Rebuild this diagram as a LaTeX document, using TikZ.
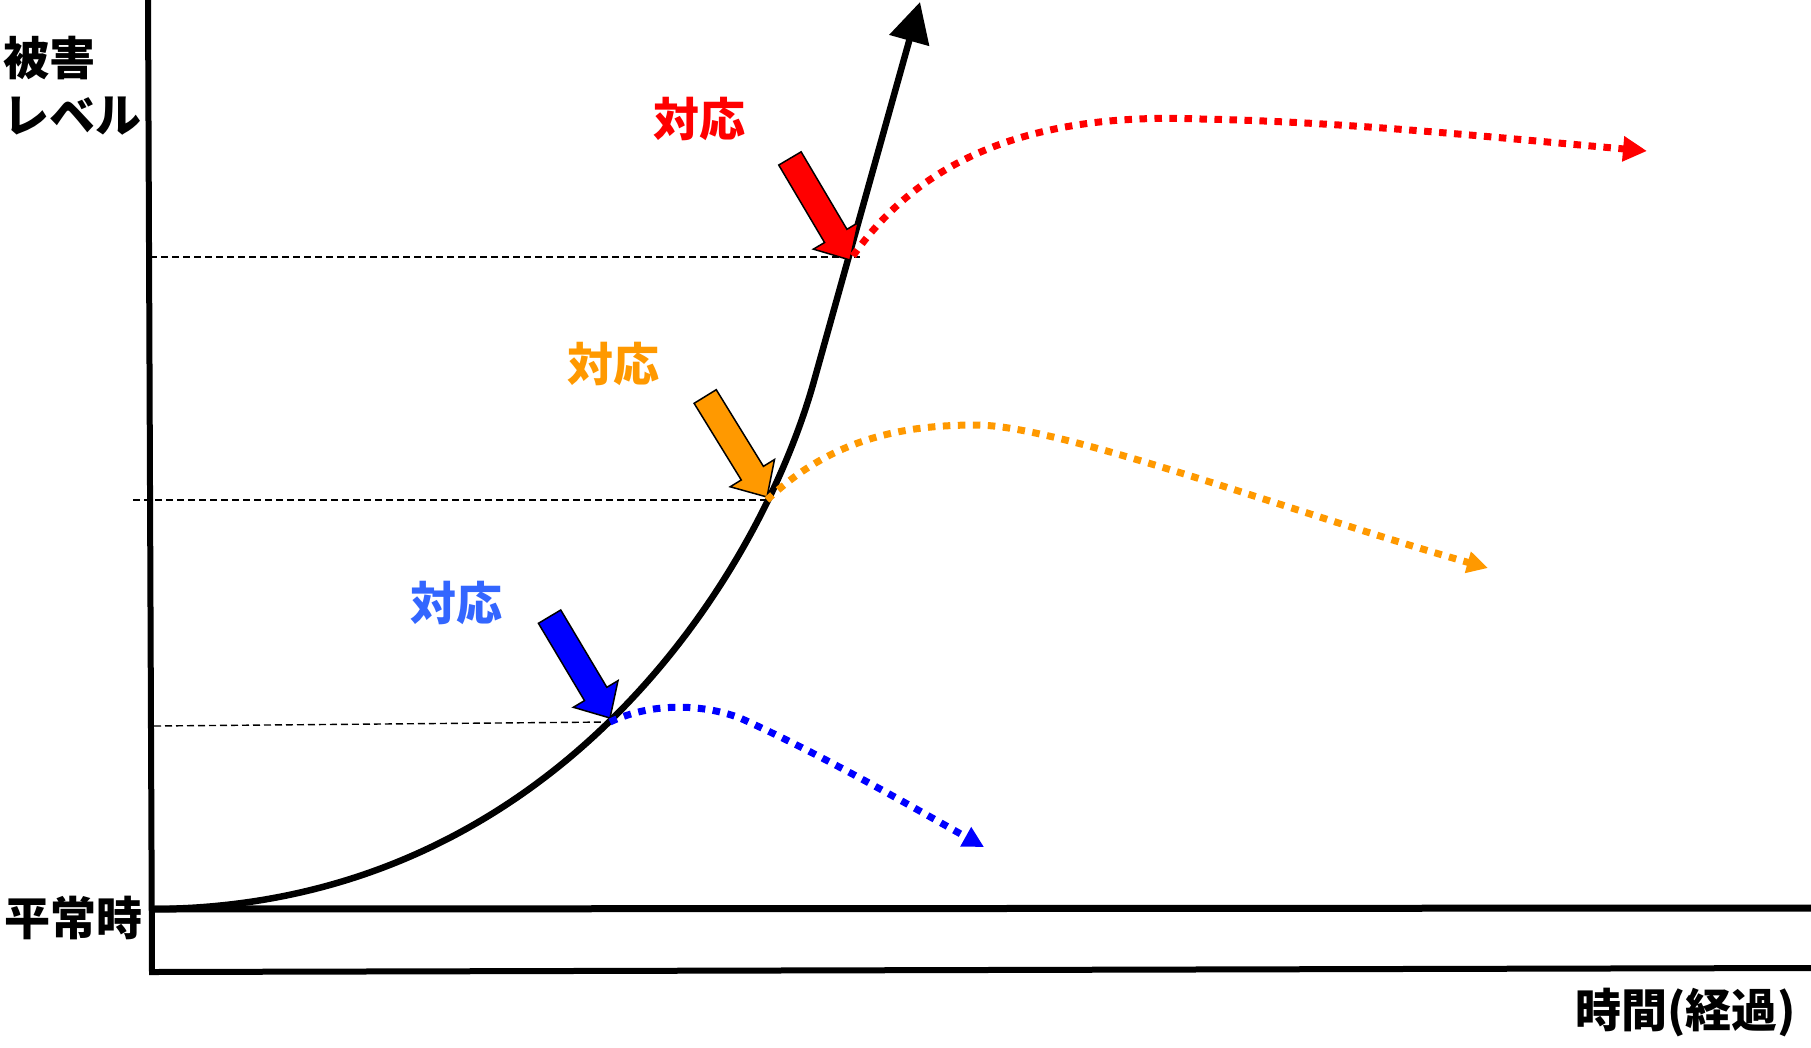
\documentclass[tikz,border=0pt]{standalone}
\usepackage{fontspec}
\newfontfamily\jp{Noto Sans CJK JP}
\usetikzlibrary{arrows.meta}
\definecolor{redA}{RGB}{255,0,0}
\definecolor{orangeA}{RGB}{255,153,0}
\definecolor{blueA}{RGB}{0,0,255}
\definecolor{blueT}{RGB}{51,102,255}
\newcommand\blockarr[3]{%
  \begin{scope}[shift={#1}, rotate=#2]
    \filldraw[barrow, fill=#3] (0,0) -- (-28,26) -- (-28,13) -- (-118,13)
      -- (-118,-13) -- (-28,-13) -- (-28,-26) -- cycle;
  \end{scope}}
\begin{document}
\begin{tikzpicture}[x=1pt,y=-1pt,
  lbl/.style={font=\jp\bfseries\fontsize{46}{50}\selectfont, inner sep=0pt, anchor=west},
  axisline/.style={line width=6pt, line join=miter},
  mainc/.style={line width=6.5pt, -{Triangle[length=40pt,width=40pt]}},
  guide/.style={line width=1.4pt, dash pattern=on 7pt off 4pt},
  dotc/.style={line width=7pt, dash pattern=on 7.5pt off 7.5pt},
  barrow/.style={draw=black, line width=1.5pt, line join=miter}]
\useasboundingbox (0,0) rectangle (1811,1047);

% axes
\coordinate (yTop) at (148,0);
\coordinate (origin) at (152,972);
\coordinate (xEnd) at (1811,968);
\draw[axisline] (yTop) -- (origin) -- (xEnd);
\coordinate (b0) at (150,909);
\coordinate (b1) at (1811,908);
\draw[line width=7pt] (b0) -- (b1);

% labels
\node[lbl] (ylab1) at (3,58) {被害};
\node[lbl] (ylab2) at (3,116) {レベル};
\node[lbl] (normal) at (4,918) {平常時};
\node[lbl] (xlab) at (1575,1013) {時間(経過)};
\node[lbl, text=redA] (tR) at (653,119) {対応};
\node[lbl, text=orangeA] (tO) at (567,364) {対応};
\node[lbl, text=blueT] (tB) at (410,603) {対応};

% guide lines
\coordinate (rL) at (150,257); \coordinate (rR) at (860,257);
\coordinate (oL) at (133,500); \coordinate (oR) at (767,500);
\coordinate (bL) at (154,726); \coordinate (bR) at (609,722);
\draw[guide] (rL) -- (rR);
\draw[guide] (oL) -- (oR);
\draw[guide] (bL) -- (bR);

% main curve
\coordinate (kink) at (814,381);
\coordinate (tip) at (920,2);
\draw[mainc] (b0) .. controls (550,909) and (758,581) .. (kink) -- (tip);

% block arrows
\coordinate (rT) at (850,260);
\coordinate (oT) at (767,497);
\coordinate (bT) at (610,718);
\blockarr{(rT)}{-59.4}{redA}
\blockarr{(oT)}{-58.4}{orangeA}
\blockarr{(bT)}{-59.2}{blueA}

% dotted responses
\coordinate (rS) at (853,256); \coordinate (rP) at (1201,119); \coordinate (rE) at (1647,151);
\draw[dotc, redA, -{Triangle[length=24pt,width=24pt]}]
  (rS) .. controls (920,160) and (1030,112) .. (rP)
       .. controls (1350,122) and (1500,138) .. (rE);
\coordinate (oS) at (767,500); \coordinate (oP) at (976,425); \coordinate (oE) at (1488,568);
\draw[dotc, orangeA, -{Triangle[length=21pt,width=21pt]}]
  (oS) .. controls (830,440) and (900,425) .. (oP)
       .. controls (1060,425) and (1300,515) .. (oE);
\coordinate (bS) at (610,722); \coordinate (bP) at (740,718); \coordinate (bE) at (984,847);
\draw[dotc, blueA, -{Triangle[length=21pt,width=21pt]}]
  (bS) .. controls (650,703) and (700,703) .. (bP)
       .. controls (820,754) and (900,800) .. (bE);
\end{tikzpicture}
\end{document}
